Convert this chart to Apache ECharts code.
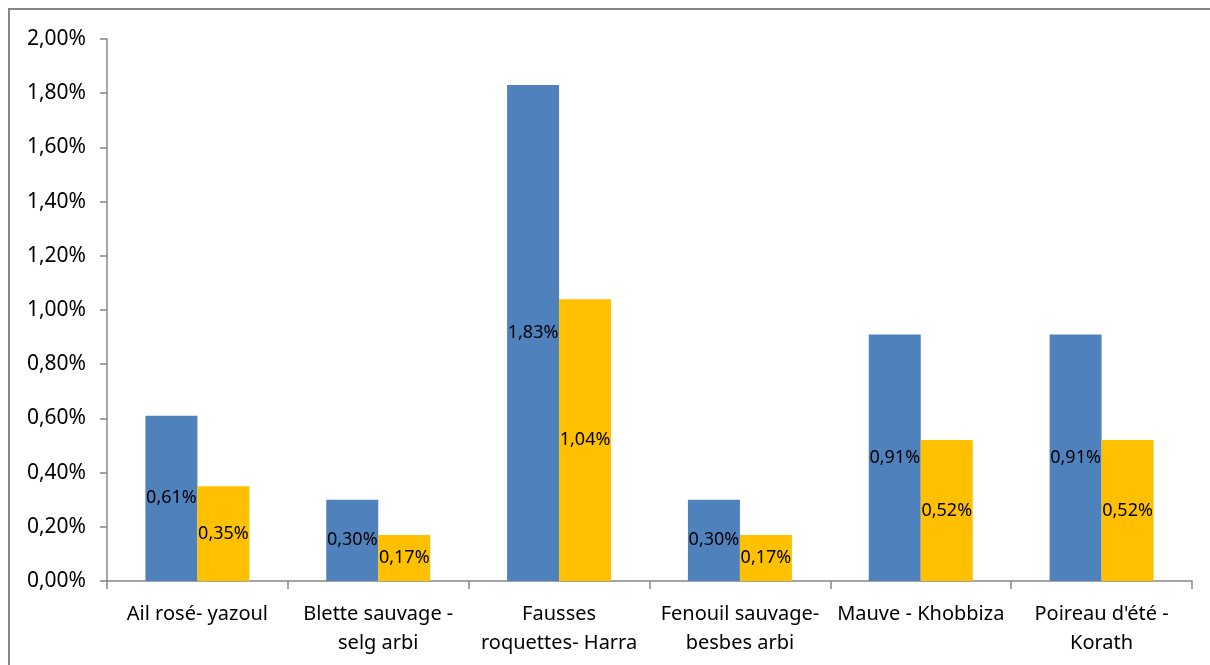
<!DOCTYPE html>
<html><head><meta charset="utf-8">
<script src="https://cdn.jsdelivr.net/npm/echarts@6/dist/echarts.min.js"></script>
<style>html,body{margin:0;padding:0;background:#fff}#c{width:1210px;height:665px}</style>
</head><body><div id="c"></div>
<script>
const categories = ["Ail rosé- yazoul", "Blette sauvage -\nselg arbi", "Fausses\nroquettes- Harra", "Fenouil sauvage-\nbesbes arbi", "Mauve - Khobbiza", "Poireau d'été -\nKorath"];
const seriesBlue = [0.61, 0.30, 1.83, 0.30, 0.91, 0.91];
const seriesOrange = [0.35, 0.17, 1.04, 0.17, 0.52, 0.52];
const yTicks = [0, 0.2, 0.4, 0.6, 0.8, 1.0, 1.2, 1.4, 1.6, 1.8, 2.0];

const FONT = "Noto Sans";
const fmtPct = v => v.toFixed(2).replace('.', ',') + '%';
const chart = echarts.init(document.getElementById('c'), null, {renderer: 'canvas'});
const labelStyle = {show: true, position: 'inside', color: '#000', fontFamily: FONT, fontSize: 18,
  formatter: p => fmtPct(p.value)};
chart.setOption({
  animation: false,
  backgroundColor: '#fff',
  graphic: [{type: 'rect', shape: {x: 9, y: 9, width: 1220, height: 680},
    style: {fill: 'none', stroke: '#878787', lineWidth: 2}, silent: true, z: -1}],
  grid: {left: 107, right: 18, top: 39, bottom: 84, containLabel: false},
  xAxis: {type: 'category', data: categories,
    axisLine: {lineStyle: {color: '#878787', width: 1.5}},
    axisTick: {show: true, alignWithLabel: false, length: 8, lineStyle: {color: '#878787', width: 1.5}},
    axisLabel: {color: '#000', fontFamily: FONT, fontSize: 20, lineHeight: 29, margin: 19, interval: 0}},
  yAxis: {type: 'value', min: yTicks[0], max: yTicks[yTicks.length - 1], interval: 0.2,
    axisLine: {show: true, lineStyle: {color: '#878787', width: 1.5}},
    axisTick: {show: true, length: 7, lineStyle: {color: '#878787', width: 1.5}},
    splitLine: {show: false},
    axisLabel: {color: '#000', fontFamily: FONT, fontSize: 21, margin: 21, formatter: v => fmtPct(v)}},
  series: [
    {type: 'bar', data: seriesBlue, barWidth: 52, barGap: '0%', itemStyle: {color: '#4F81BD'}, label: labelStyle},
    {type: 'bar', data: seriesOrange, barWidth: 52, barGap: '0%', itemStyle: {color: '#FFC000'}, label: labelStyle}
  ]
});
</script></body></html>
